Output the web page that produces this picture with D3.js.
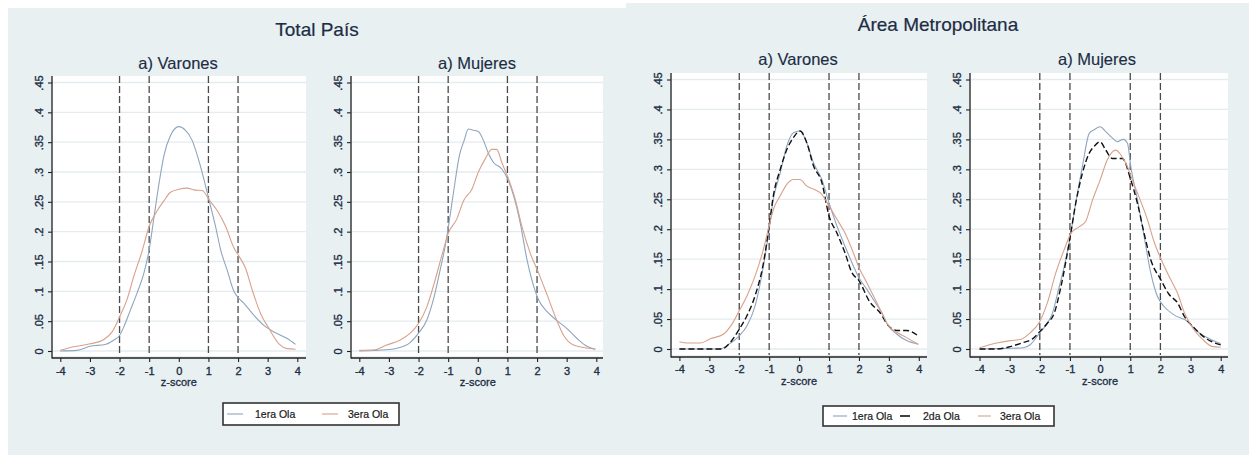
<!DOCTYPE html>
<html><head><meta charset="utf-8">
<script src="https://cdn.jsdelivr.net/npm/d3@7"></script>
<style>
html,body{margin:0;padding:0;background:#fff;}
text{font-family:"Liberation Sans",Arial,sans-serif;}
</style></head>
<body>
<svg id="c" width="1249" height="455"></svg>
<script>
// ---------------- DATA ----------------
const figTitles = ["Total País", "Área Metropolitana"];
const panelTitles = ["a) Varones", "a) Mujeres", "a) Varones", "a) Mujeres"];
const seriesNames = ["1era Ola", "2da Ola", "3era Ola"];
const xTicks = [-4, -3, -2, -1, 0, 1, 2, 3, 4];
const yTicks = [0, 0.05, 0.1, 0.15, 0.2, 0.25, 0.3, 0.35, 0.4, 0.45];
const yTickLabels = ["0", ".05", ".1", ".15", ".2", ".25", ".3", ".35", ".4", ".45"];
const refLines = [-2, -1, 1, 2];
const xLabel = "z-score";

// Total País - Varones
const tpVar1 = [[-4,0],[-3.44,0.001],[-3,0.008],[-2.48,0.011],[-2.2,0.018],[-2,0.026],[-1.86,0.04],[-1.63,0.069],[-1.41,0.097],[-1.18,0.13],[-1,0.17],[-0.85,0.22],[-0.68,0.277],[-0.5,0.328],[-0.28,0.361],[0,0.376],[0.22,0.37],[0.45,0.353],[0.73,0.31],[1.04,0.249],[1.24,0.209],[1.41,0.17],[1.63,0.136],[1.86,0.1],[2.03,0.088],[2.2,0.08],[2.48,0.063],[2.87,0.043],[3.21,0.032],[3.66,0.021],[3.94,0.011]];
const tpVar3 = [[-4,0.001],[-3.55,0.007],[-2.99,0.012],[-2.54,0.019],[-2.25,0.032],[-2,0.057],[-1.75,0.086],[-1.52,0.125],[-1.24,0.167],[-1,0.209],[-0.73,0.235],[-0.5,0.252],[-0.28,0.266],[0,0.271],[0.28,0.273],[0.51,0.27],[0.79,0.269],[1.04,0.252],[1.3,0.235],[1.58,0.209],[1.86,0.173],[2.03,0.159],[2.25,0.139],[2.48,0.102],[2.76,0.063],[3.04,0.038],[3.38,0.012],[3.66,0.004],[3.94,0.003]];
// Total País - Mujeres
const tpMuj1 = [[-4,0],[-3.08,0.002],[-2.63,0.006],[-2.34,0.012],[-2,0.03],[-1.72,0.052],[-1.5,0.086],[-1.27,0.136],[-1.1,0.176],[-0.99,0.209],[-0.82,0.266],[-0.62,0.328],[-0.46,0.353],[-0.32,0.372],[-0.15,0.37],[0.02,0.368],[0.19,0.353],[0.36,0.331],[0.53,0.316],[0.81,0.305],[1.01,0.288],[1.21,0.26],[1.43,0.215],[1.66,0.153],[1.89,0.108],[2.05,0.086],[2.34,0.066],[2.67,0.051],[3,0.038],[3.35,0.021],[3.68,0.008],[3.97,0.003]];
const tpMuj3 = [[-4,0.001],[-3.47,0.002],[-3.08,0.01],[-2.63,0.018],[-2.3,0.029],[-2,0.046],[-1.72,0.074],[-1.44,0.119],[-1.22,0.159],[-0.99,0.198],[-0.71,0.221],[-0.48,0.252],[-0.2,0.271],[0.02,0.3],[0.25,0.322],[0.47,0.338],[0.64,0.338],[0.81,0.316],[1.04,0.288],[1.26,0.255],[1.49,0.209],[1.77,0.164],[2.05,0.131],[2.34,0.094],[2.62,0.057],[2.9,0.026],[3.23,0.01],[3.57,0.006],[3.97,0.003]];
// Área Metropolitana - Varones
const amVar1 = [[-4,0],[-2.63,0],[-2.41,0.006],[-2,0.022],[-1.74,0.039],[-1.47,0.072],[-1.19,0.139],[-1,0.2],[-0.86,0.25],[-0.63,0.294],[-0.41,0.339],[-0.19,0.361],[0.03,0.364],[0.26,0.344],[0.48,0.311],[0.76,0.283],[1,0.244],[1.26,0.206],[1.53,0.172],[1.81,0.139],[2,0.119],[2.26,0.1],[2.54,0.078],[2.76,0.061],[2.98,0.039],[3.26,0.025],[3.59,0.014],[3.98,0.008]];
const amVar2 = [[-4,0],[-2.58,0],[-2.3,0.011],[-2,0.033],[-1.74,0.056],[-1.47,0.089],[-1.19,0.144],[-1,0.206],[-0.86,0.256],[-0.63,0.3],[-0.41,0.333],[-0.19,0.353],[0.03,0.364],[0.26,0.344],[0.48,0.306],[0.76,0.278],[1,0.222],[1.26,0.194],[1.53,0.161],[1.76,0.128],[2,0.114],[2.37,0.078],[2.7,0.061],[2.98,0.039],[3.26,0.031],[3.59,0.031],[3.98,0.022]];
const amVar3 = [[-4,0.012],[-3.74,0.01],[-3.3,0.01],[-2.97,0.017],[-2.52,0.025],[-2.24,0.042],[-2,0.064],[-1.74,0.089],[-1.47,0.122],[-1.19,0.167],[-1,0.206],[-0.86,0.233],[-0.63,0.256],[-0.41,0.275],[-0.19,0.283],[0.03,0.283],[0.26,0.272],[0.48,0.267],[0.76,0.258],[1,0.239],[1.26,0.217],[1.53,0.194],[1.81,0.161],[2,0.136],[2.26,0.111],[2.54,0.083],[2.76,0.061],[2.98,0.039],[3.26,0.028],[3.59,0.019],[3.98,0.008]];
// Área Metropolitana - Mujeres
const amMuj1 = [[-4,0],[-3.1,0.001],[-2.54,0.002],[-2.32,0.007],[-2,0.027],[-1.75,0.043],[-1.58,0.06],[-1.41,0.093],[-1.19,0.138],[-0.99,0.188],[-0.81,0.243],[-0.59,0.304],[-0.36,0.36],[-0.2,0.366],[0,0.371],[0.19,0.363],[0.41,0.352],[0.57,0.346],[0.77,0.35],[0.91,0.343],[1.02,0.304],[1.24,0.249],[1.46,0.188],[1.68,0.127],[1.9,0.088],[2.12,0.071],[2.45,0.057],[2.9,0.046],[3.23,0.029],[3.67,0.016],[4,0.009]];
const amMuj2 = [[-4,0],[-3.43,0],[-2.98,0.004],[-2.54,0.011],[-2.24,0.017],[-2,0.029],[-1.75,0.043],[-1.52,0.06],[-1.3,0.104],[-0.99,0.188],[-0.81,0.243],[-0.59,0.293],[-0.36,0.327],[-0.2,0.338],[0,0.346],[0.19,0.332],[0.41,0.318],[0.74,0.318],[1.02,0.282],[1.24,0.243],[1.46,0.193],[1.68,0.149],[2.01,0.116],[2.29,0.091],[2.57,0.077],[2.8,0.054],[3.07,0.038],[3.35,0.024],[3.67,0.013],[4,0.007]];
const amMuj3 = [[-4,0.002],[-3.43,0.01],[-2.98,0.014],[-2.65,0.016],[-2.32,0.027],[-2,0.046],[-1.75,0.077],[-1.47,0.127],[-1.19,0.166],[-0.97,0.193],[-0.7,0.204],[-0.48,0.213],[-0.25,0.249],[0,0.282],[0.24,0.316],[0.52,0.332],[0.69,0.324],[0.91,0.304],[1.07,0.282],[1.29,0.254],[1.57,0.216],[1.79,0.179],[2.03,0.149],[2.29,0.121],[2.57,0.093],[2.8,0.06],[3.07,0.035],[3.4,0.016],[3.73,0.004],[4,0.003]];

// ---------------- STYLE / LAYOUT ----------------
const BG = "#E8F0F2", GRID = "#E4ECEF", TXT = "#1d2d44";
const seriesStyle = [
  {color:"#8EA5BE", dash:null, width:1.1},
  {color:"#111111", dash:"6,3", width:1.4},
  {color:"#D8A18B", dash:null, width:1.1}
];
const figs = [
  {x:8, y:8, w:618, h:447, titleX:317, titleY:29, subY:63,
   legend:{x:223, y:403, w:176, h:22, items:[
     {s:0, lx0:227, lx1:243, tx:255},
     {s:2, lx0:322, lx1:338, tx:348}]}},
  {x:626, y:3, w:623, h:452, titleX:938, titleY:24, subY:59,
   legend:{x:823, y:406, w:231, h:20, items:[
     {s:0, lx0:833, lx1:847, tx:852},
     {s:1, lx0:900, lx1:910, tx:923},
     {s:2, lx0:978, lx1:991, tx:1000}]}}
];
const panels = [
  {fig:0, title:0, data:[[0,tpVar1],[2,tpVar3]], ax:52, right:306, top:76, bottom:356, axY:358, zx0:60.3, zx1:297.3, y0:351, y45:82.5, subX:178, tickY:5, zlabY:382},
  {fig:0, title:1, data:[[0,tpMuj1],[2,tpMuj3]], ax:351, right:603, top:76, bottom:356, axY:358, zx0:359.3, zx1:596.3, y0:351, y45:82.5, subX:477, tickY:5, zlabY:382},
  {fig:1, title:2, data:[[0,amVar1],[1,amVar2],[2,amVar3]], ax:671, right:927, top:73, bottom:355, axY:357, zx0:679.4, zx1:918.8, y0:349, y45:79.5, subX:798, tickY:4, zlabY:381},
  {fig:1, title:3, data:[[0,amMuj1],[1,amMuj2],[2,amMuj3]], ax:970, right:1228, top:73, bottom:355, axY:357, zx0:979.5, zx1:1220.7, y0:349, y45:79.5, subX:1097, tickY:4, zlabY:381}
];

// ---------------- DRAW ----------------
const svg = d3.select("#c");
svg.append("rect").attr("width",1249).attr("height",455).attr("fill","#fff");

figs.forEach((f,i)=>{
  svg.append("rect").attr("x",f.x).attr("y",f.y).attr("width",f.w).attr("height",f.h).attr("fill",BG);
  svg.append("text").attr("x",f.titleX).attr("y",f.titleY).attr("text-anchor","middle")
    .attr("dominant-baseline","central").attr("font-size",19).attr("fill",TXT)
    .attr("stroke",TXT).attr("stroke-width",0.2).text(figTitles[i]);
});

panels.forEach(p=>{
  const x = d3.scaleLinear().domain([-4,4]).range([p.zx0,p.zx1]);
  const y = d3.scaleLinear().domain([0,0.45]).range([p.y0,p.y45]);
  const g = svg.append("g");
  g.append("rect").attr("x",p.ax+1).attr("y",p.top).attr("width",p.right-p.ax-1).attr("height",p.bottom-p.top).attr("fill","#fff");
  g.selectAll(".grid").data(yTicks).enter().append("line")
    .attr("x1",p.ax+1).attr("x2",p.right).attr("y1",d=>y(d)).attr("y2",d=>y(d))
    .attr("stroke",GRID).attr("stroke-width",1.3);
  g.append("text").attr("x",p.subX).attr("y",figs[p.fig].subY).attr("text-anchor","middle")
    .attr("dominant-baseline","central").attr("font-size",16.5).attr("fill",TXT)
    .attr("stroke",TXT).attr("stroke-width",0.15).text(panelTitles[p.title]);
  g.selectAll(".ref").data(refLines).enter().append("line")
    .attr("x1",d=>x(d)).attr("x2",d=>x(d)).attr("y1",p.top).attr("y2",p.bottom)
    .attr("stroke","#4a4a4a").attr("stroke-width",1.3).attr("stroke-dasharray","7,3");
  const line = d3.line().x(d=>x(d[0])).y(d=>y(d[1])).curve(d3.curveMonotoneX);
  p.data.forEach(([si,arr])=>{
    const st = seriesStyle[si];
    g.append("path").attr("d",line(arr)).attr("fill","none").attr("stroke",st.color)
      .attr("stroke-width",st.width).attr("stroke-dasharray",st.dash);
  });
  const xa = g.append("g").attr("transform",`translate(0,${p.axY})`)
    .call(d3.axisBottom(x).tickValues(xTicks).tickFormat(d=>String(d)).tickSize(4).tickPadding(p.tickY));
  xa.select(".domain").remove();
  xa.selectAll("line").attr("stroke","#222").attr("stroke-width",1.1);
  xa.selectAll("text").attr("font-size",11).attr("fill",TXT).attr("stroke",TXT).attr("stroke-width",0.35)
    .attr("font-family","Liberation Sans, Arial, sans-serif");
  const ya = g.append("g").attr("transform",`translate(${p.ax},0)`)
    .call(d3.axisLeft(y).tickValues(yTicks).tickFormat((d,i)=>yTickLabels[i]).tickSize(4));
  ya.select(".domain").remove();
  ya.selectAll("line").attr("stroke","#222").attr("stroke-width",1.1);
  ya.selectAll("text").attr("font-size",11).attr("fill",TXT).attr("stroke",TXT).attr("stroke-width",0.35)
    .attr("font-family","Liberation Sans, Arial, sans-serif")
    .attr("x",null).attr("dy",null).attr("text-anchor","middle").attr("dominant-baseline","central")
    .attr("transform","translate(-13,0) rotate(-90)");
  g.append("line").attr("x1",p.ax).attr("x2",p.ax).attr("y1",p.top).attr("y2",p.axY+0.5).attr("stroke","#222").attr("stroke-width",1.3);
  g.append("line").attr("x1",p.ax).attr("x2",p.right).attr("y1",p.axY).attr("y2",p.axY).attr("stroke","#222").attr("stroke-width",1.3);
  g.append("text").attr("x",x(0)).attr("y",p.zlabY).attr("text-anchor","middle").attr("dominant-baseline","central")
    .attr("font-size",11).attr("fill",TXT).attr("stroke",TXT).attr("stroke-width",0.3).text(xLabel);
});

figs.forEach(f=>{
  const L = f.legend;
  svg.append("rect").attr("x",L.x).attr("y",L.y).attr("width",L.w).attr("height",L.h)
    .attr("fill","#fff").attr("stroke","#333").attr("stroke-width",1.6);
  const cy = L.y + L.h/2;
  L.items.forEach(it=>{
    const st = seriesStyle[it.s];
    svg.append("line").attr("x1",it.lx0).attr("x2",it.lx1).attr("y1",cy).attr("y2",cy)
      .attr("stroke",st.color).attr("stroke-width",st.dash?1.6:1.1);
    svg.append("text").attr("x",it.tx).attr("y",cy).attr("dominant-baseline","central")
      .attr("font-size",10.5).attr("fill","#1a1a1a").attr("stroke","#1a1a1a").attr("stroke-width",0.2)
      .text(seriesNames[it.s]);
  });
});
</script>
</body></html>
